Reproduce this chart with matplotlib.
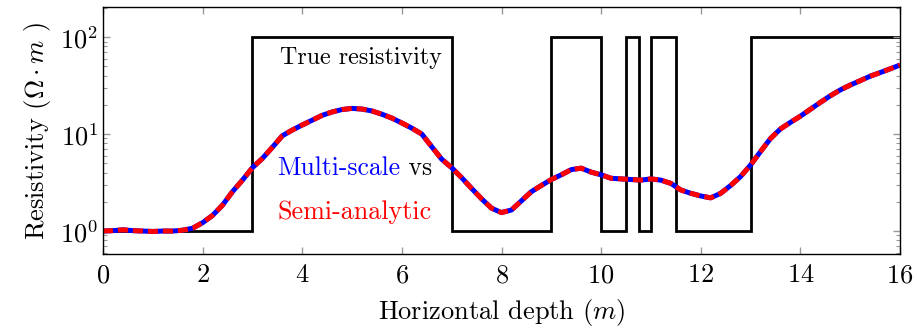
import matplotlib
matplotlib.use("Agg")
import matplotlib.pyplot as plt

plt.rcParams['font.family'] = 'serif'
plt.rcParams['font.serif'] = ['cmr10', 'DejaVu Serif']
plt.rcParams['mathtext.fontset'] = 'cm'
plt.rcParams['axes.formatter.use_mathtext'] = True

# true (blocky) model
edges = [0, 3, 7, 9, 10, 10.5, 10.75, 11, 11.5, 13, 16]
true_rho = [1, 100, 1, 100, 1, 100, 1, 100, 1, 100]

# inverted profile
depth = [0.0, 0.2, 0.4, 0.6, 0.8, 1.0, 1.2, 1.4, 1.6, 1.8,
         2.0, 2.2, 2.4, 2.6, 2.8, 3.0, 3.2, 3.4, 3.6, 3.8,
         4.0, 4.2, 4.4, 4.6, 4.8, 5.0, 5.2, 5.4, 5.6, 5.8,
         6.0, 6.2, 6.4, 6.6, 6.8, 7.0, 7.2, 7.4, 7.6, 7.8,
         8.0, 8.2, 8.4, 8.6, 8.8, 9.0, 9.2, 9.4, 9.6, 9.8,
         10.0, 10.2, 10.4, 10.6, 10.8, 11.0, 11.2, 11.4, 11.6, 11.8,
         12.0, 12.2, 12.4, 12.6, 12.8, 13.0, 13.2, 13.4, 13.6, 13.8,
         14.0, 14.2, 14.4, 14.6, 14.8, 15.0, 15.2, 15.4, 15.6, 15.8, 16.0]
rho = [1.00, 1.01, 1.03, 1.01, 1.00, 0.99, 1.00, 1.00, 1.02, 1.07,
       1.22, 1.45, 1.85, 2.55, 3.35, 4.5, 5.6, 7.3, 9.6, 11.0,
       12.4, 13.9, 15.6, 16.9, 17.9, 18.4, 18.1, 17.3, 16.0, 14.6,
       13.0, 11.5, 10.0, 7.4, 5.5, 4.5, 3.55, 2.75, 2.15, 1.72,
       1.55, 1.65, 2.05, 2.55, 2.95, 3.4, 3.8, 4.3, 4.45, 4.05,
       3.8, 3.5, 3.45, 3.4, 3.35, 3.45, 3.35, 3.1, 2.65, 2.45,
       2.3, 2.2, 2.45, 2.95, 3.65, 4.8, 6.6, 9.0, 11.3, 13.2,
       15.3, 18.0, 21.2, 24.8, 28.5, 32.0, 35.5, 39.5, 43.0, 47.0, 51.5]

fig = plt.figure(figsize=(9.17, 3.35), dpi=100)
ax = fig.add_axes([0.1123, 0.2418, 0.8692, 0.7372])

ax.stairs(true_rho, edges, baseline=None, color='black', linewidth=2.0)
ax.plot(depth, rho, color='blue', linewidth=3.6, solid_capstyle='butt')
ax.plot(depth, rho, color='red', linewidth=3.6, linestyle=(0, (2.0, 1.0)))

ax.set_yscale('log')
ax.set_xlim(0, 16)
ax.set_ylim(0.58, 204)
ax.set_xticks(range(0, 17, 2))

ax.tick_params(which='both', direction='in', top=True, right=True, color='#999999',
               labelsize=19)
ax.tick_params(which='major', length=5, width=1)
ax.tick_params(which='minor', length=3, width=0.8)
ax.tick_params(axis='x', pad=7)
for s in ax.spines.values():
    s.set_linewidth(1.0)

ax.set_xlabel(r'Horizontal depth ($m$)', fontsize=19, labelpad=7)
ax.set_ylabel(r'Resistivity ($\mathit{\Omega} \cdot m$ )', fontsize=19, labelpad=5)

ax.text(3.55, 61, 'True resistivity', fontsize=17.3, va='center', ha='left')
t1 = ax.text(3.49, 4.46, 'Multi-scale', color='blue', fontsize=18.5, va='center', ha='left')
ax.annotate(' vs', xy=(1, 0), xycoords=t1, va='bottom', ha='left', fontsize=18.5)
ax.text(3.5, 1.57, 'Semi-analytic', color='red', fontsize=18.8, va='center', ha='left')

fig.savefig('out.png', dpi=100)
